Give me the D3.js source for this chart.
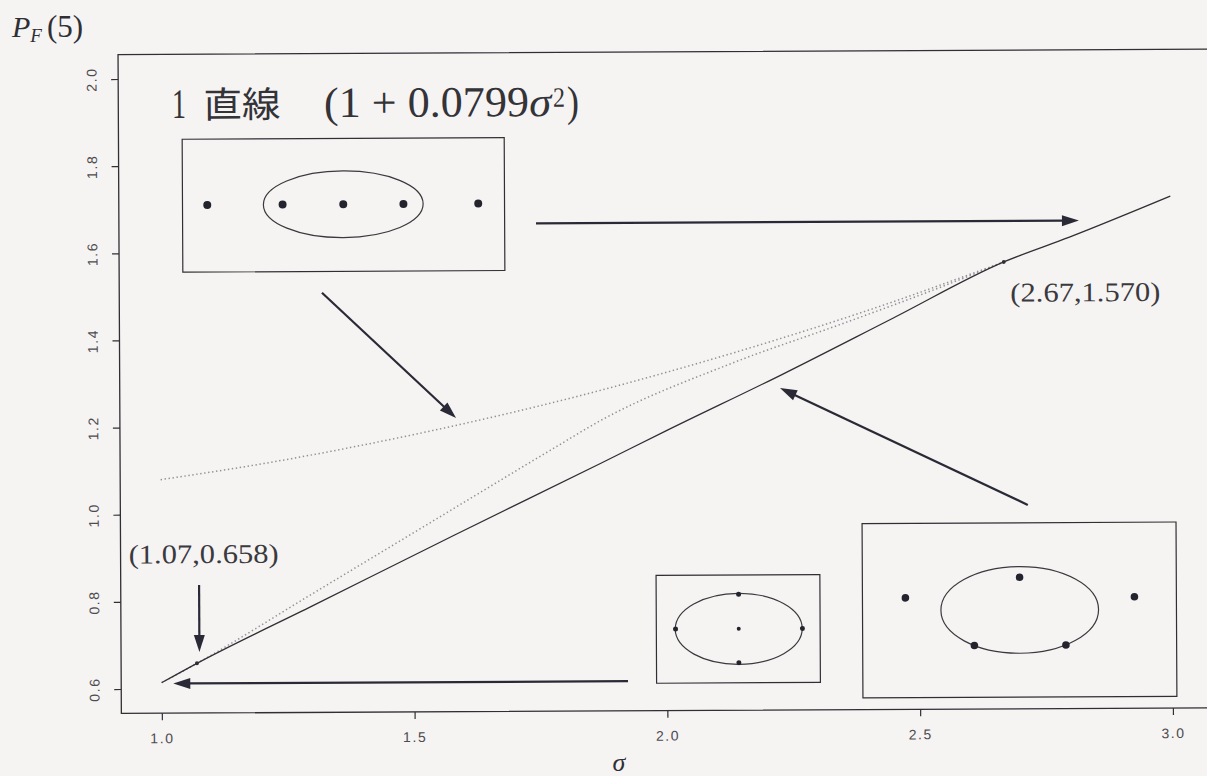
<!DOCTYPE html>
<html>
<head>
<meta charset="utf-8">
<script src="https://cdn.jsdelivr.net/npm/d3@7"></script>
<style>
  html, body { margin: 0; padding: 0; background: #f6f3f3; }
  svg { display: block; }
</style>
</head>
<body>
<div id="chart"></div>
<script>
// ---- axis ticks ----
const sigmaTicks = [1.0, 1.5, 2.0, 2.5, 3.0];
const pfTicks = [0.6, 0.8, 1.0, 1.2, 1.4, 1.6, 1.8, 2.0];

// ---- P_F(5) curves ----
// lower envelope (optimal arrangement)
const optSigma = [1.00, 1.07, 1.30, 1.58, 1.87, 2.00, 2.23, 2.45, 2.67, 2.80, 3.00];
const optPF    = [0.614, 0.658, 0.789, 0.949, 1.112, 1.186, 1.314, 1.442, 1.570, 1.626, 1.719];
// one-line arrangement (1 + 0.0799 sigma^2) where it is not optimal
const lineSigma = [1.00, 1.20, 1.40, 1.60, 1.80, 2.00, 2.20, 2.40, 2.67];
const linePF    = [1.080, 1.115, 1.157, 1.205, 1.259, 1.320, 1.387, 1.460, 1.570];
// centre + four arrangement where it is not optimal
const crossSigma = [1.00, 1.07, 1.30, 1.55, 1.78, 1.87, 2.13, 2.35, 2.55, 2.67];
const crossPF    = [0.614, 0.658, 0.817, 0.990, 1.149, 1.210, 1.340, 1.430, 1.515, 1.570];

// switch points
const switchSigma  = [1.07, 2.67];
const switchPF     = [0.658, 1.570];
const switchLabels = ["(1.07,0.658)", "(2.67,1.570)"];
const switchLabelX = [0.936, 2.6826];
const switchLabelY = [0.888, 1.4786];

// ---- inset diagrams (in sigma / P_F units) ----
// one line: five points, middle three circled
const lineBox   = [1.046, 1.683, 1.556, 1.861];
const lineDotsX = [1.095, 1.244, 1.364, 1.483, 1.631];
const lineDotsY = [1.710, 1.710, 1.710, 1.710, 1.710];
const lineEllipse = [1.364, 1.710, 0.158, 0.0765];
// centre + four on an ellipse
const crossBox   = [1.979, 2.303, 0.607, 0.8545];
const crossDotsX = [2.142, 2.142, 2.142, 2.017, 2.268];
const crossDotsY = [0.731, 0.810, 0.653, 0.731, 0.731];
const crossDotsR = [2.0, 2.5, 2.5, 2.5, 2.5];
const crossEllipse = [2.142, 0.731, 0.1256, 0.0815];
// two outside + three on an ellipse
const ringBox   = [2.387, 3.008, 0.571, 0.971];
const ringDotsX = [2.472, 2.925, 2.698, 2.608, 2.789];
const ringDotsY = [0.800, 0.800, 0.846, 0.690, 0.690];
const ringEllipse = [2.698, 0.771, 0.1559, 0.0994];

// ---- arrows: [sigma, P_F] start -> tip ----
const arrowFrom = [[1.745, 1.664], [1.321, 1.507], [2.715, 1.012], [1.075, 0.838], [1.9225, 0.612]];
const arrowTo   = [[2.819, 1.664], [1.585, 1.218], [2.226, 1.283], [1.075, 0.684], [1.023, 0.612]];

// ---- title of the one-line arrangement ----
const titleParts = [
  {text: "1",           sx: 1.026,  py: 1.910, size: 42, family: "'Liberation Serif', serif", len: 14},
  {text: "直線",         sx: 1.0886, py: 1.910, size: 36, family: "'Noto Sans CJK JP', sans-serif", len: 77},
  {text: "(1 + 0.0799", sx: 1.3268, py: 1.910, size: 43, family: "'Liberation Serif', serif", len: 205},
  {text: "σ",           sx: 1.733,  py: 1.910, size: 42, family: "'Liberation Serif', serif", italic: true, len: 22},
  {text: "2",           sx: 1.7797, py: 1.931, size: 28, family: "'Liberation Serif', serif", len: 12},
  {text: ")",           sx: 1.8074, py: 1.910, size: 43, family: "'Liberation Serif', serif", len: 12}
];

const W = 1207, H = 776;
const ink = "#2f2f34";

const svg = d3.select("#chart").append("svg")
  .attr("width", W).attr("height", H)
  .style("background", "#f6f3f3");

// the printed page sits very slightly rotated
const g = svg.append("g").attr("transform", "rotate(-0.29,120,384)");

const x = d3.scaleLinear().domain([0.92, 3.08]).range([119.7, 1211.7]);
const y = d3.scaleLinear().domain([0.544, 2.056]).range([713.4, 54.6]);

// frame
const [x0, x1] = x.range();
const [yb, yt] = y.range();
g.append("path")
  .attr("d", `M${x1},${yt}H${x0}V${yb}H${x1}`)
  .attr("fill", "none").attr("stroke", ink).attr("stroke-width", 1.3);

// x axis
const xAxis = g.append("g").attr("transform", `translate(0,${yb})`)
  .call(d3.axisBottom(x).tickValues(sigmaTicks).tickSize(7).tickFormat(d3.format(".1f")));
xAxis.select(".domain").remove();
xAxis.selectAll(".tick line").attr("stroke", ink).attr("stroke-width", 1.2);
xAxis.selectAll(".tick text")
  .attr("y", 30).attr("dy", 0)
  .attr("fill", "#4c4c50")
  .style("font-family", "'Liberation Sans', Arial, sans-serif")
  .style("font-size", "14px")
  .style("letter-spacing", "1.6px");

// y axis
const yAxis = g.append("g").attr("transform", `translate(${x0},0)`)
  .call(d3.axisLeft(y).tickValues(pfTicks).tickSize(7).tickFormat(d3.format(".1f")));
yAxis.select(".domain").remove();
yAxis.selectAll(".tick line").attr("stroke", ink).attr("stroke-width", 1.2);
yAxis.selectAll(".tick text")
  .attr("transform", "rotate(-90)")
  .attr("x", 0).attr("y", -21.7).attr("dy", 0)
  .attr("text-anchor", "middle")
  .attr("fill", "#4c4c50")
  .style("font-family", "'Liberation Sans', Arial, sans-serif")
  .style("font-size", "14px")
  .style("letter-spacing", "1.6px");

// axis titles
const pTitle = svg.append("text")
  .attr("x", 12).attr("y", 37)
  .attr("fill", ink)
  .style("font-family", "'Liberation Serif', serif");
pTitle.append("tspan").text("P").style("font-style", "italic").style("font-size", "30px");
pTitle.append("tspan").text("F").attr("dy", 5).style("font-style", "italic").style("font-size", "19px");
pTitle.append("tspan").text("(5)").attr("dx", 5).attr("dy", -5).style("font-size", "31px");

svg.append("text")
  .attr("x", 619).attr("y", 771)
  .attr("text-anchor", "middle")
  .attr("fill", ink)
  .style("font-family", "'Liberation Serif', serif")
  .style("font-style", "italic")
  .style("font-size", "26px")
  .text("σ");

// curves
const line = d3.line().x(d => x(d[0])).y(d => y(d[1])).curve(d3.curveMonotoneX);
const zip = (a, b) => a.map((v, i) => [v, b[i]]);

g.append("path").datum(zip(lineSigma, linePF))
  .attr("d", line).attr("fill", "none")
  .attr("stroke", "#958f94").attr("stroke-width", 1.5)
  .attr("stroke-dasharray", "1.4,2.6");
g.append("path").datum(zip(crossSigma, crossPF))
  .attr("d", line).attr("fill", "none")
  .attr("stroke", "#958f94").attr("stroke-width", 1.5)
  .attr("stroke-dasharray", "1.4,2.6");
g.append("path").datum(zip(optSigma, optPF))
  .attr("d", line).attr("fill", "none")
  .attr("stroke", ink).attr("stroke-width", 1.3);

// switch points and labels
g.selectAll(".sw").data(zip(switchSigma, switchPF)).join("circle")
  .attr("cx", d => x(d[0])).attr("cy", d => y(d[1])).attr("r", 2)
  .attr("fill", ink);
g.selectAll(".swl").data(switchLabels).join("text")
  .attr("x", (d, i) => x(switchLabelX[i])).attr("y", (d, i) => y(switchLabelY[i]))
  .attr("fill", "#3a3a3e")
  .attr("textLength", 150).attr("lengthAdjust", "spacingAndGlyphs")
  .style("font-family", "'Liberation Serif', serif")
  .style("font-size", "27px")
  .text(d => d);

g.selectAll(".tt").data(titleParts).join("text")
  .attr("x", d => x(d.sx)).attr("y", d => y(d.py))
  .attr("fill", "#333338")
  .attr("textLength", d => d.len).attr("lengthAdjust", "spacingAndGlyphs")
  .style("font-family", d => d.family)
  .style("font-size", d => d.size + "px")
  .style("font-style", d => d.italic ? "italic" : "normal")
  .style("white-space", "pre")
  .text(d => d.text);

// insets
function inset(box, dx, dy, rs, ell, defaultR) {
  g.append("rect")
    .attr("x", x(box[0])).attr("y", y(box[3]))
    .attr("width", x(box[1]) - x(box[0])).attr("height", y(box[2]) - y(box[3]))
    .attr("fill", "none").attr("stroke", ink).attr("stroke-width", 1.2);
  g.append("ellipse")
    .attr("cx", x(ell[0])).attr("cy", y(ell[1]))
    .attr("rx", x(ell[0] + ell[2]) - x(ell[0]))
    .attr("ry", y(ell[1]) - y(ell[1] + ell[3]))
    .attr("fill", "none").attr("stroke", "#3a3a3e").attr("stroke-width", 1.2);
  g.append("g").selectAll("circle").data(dx).join("circle")
    .attr("cx", d => x(d)).attr("cy", (d, i) => y(dy[i]))
    .attr("r", (d, i) => rs ? rs[i] : defaultR)
    .attr("fill", "#24242e");
}
inset(lineBox, lineDotsX, lineDotsY, null, lineEllipse, 4);
inset(crossBox, crossDotsX, crossDotsY, crossDotsR, crossEllipse, 2.5);
inset(ringBox, ringDotsX, ringDotsY, null, ringEllipse, 3.8);

// arrows
arrowFrom.forEach((f, i) => {
  const t = arrowTo[i];
  const p0 = [x(f[0]), y(f[1])], p1 = [x(t[0]), y(t[1])];
  const len = Math.hypot(p1[0] - p0[0], p1[1] - p0[1]);
  const u = [(p1[0] - p0[0]) / len, (p1[1] - p0[1]) / len];
  const n = [-u[1], u[0]];
  const L = 17, w = 5.5;
  const b = [p1[0] - u[0] * L, p1[1] - u[1] * L];
  g.append("line")
    .attr("x1", p0[0]).attr("y1", p0[1])
    .attr("x2", b[0] + u[0] * 2).attr("y2", b[1] + u[1] * 2)
    .attr("stroke", "#2a2a36").attr("stroke-width", 2.2);
  g.append("path")
    .attr("d", `M${p1[0]},${p1[1]}L${b[0] + n[0] * w},${b[1] + n[1] * w}L${b[0] - n[0] * w},${b[1] - n[1] * w}Z`)
    .attr("fill", "#2a2a36");
});
</script>
</body>
</html>
